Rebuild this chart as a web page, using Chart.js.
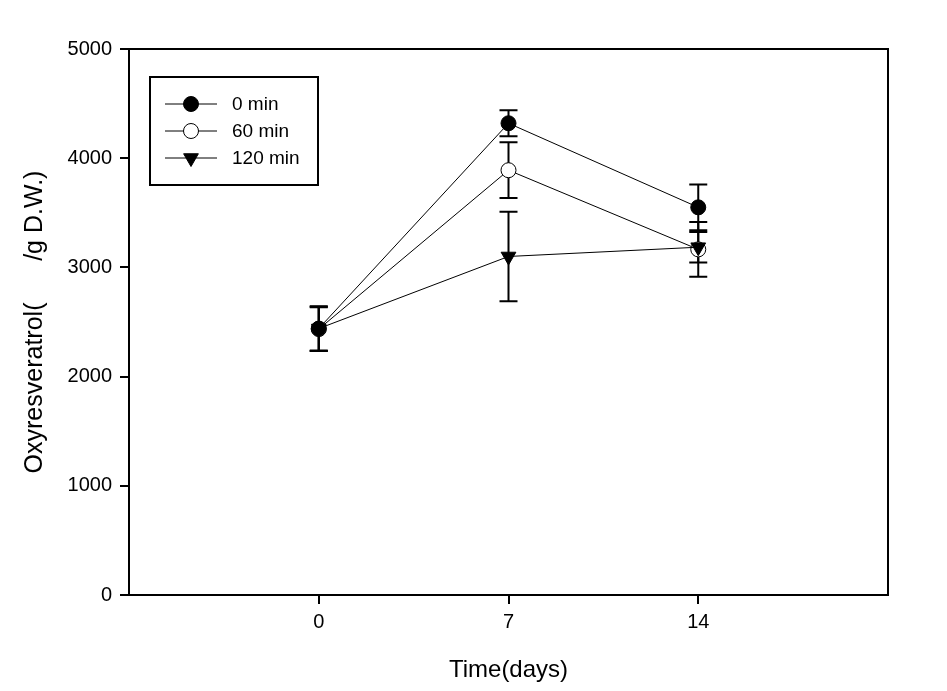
<!DOCTYPE html>
<html>
<head>
    <title>Oxyresveratrol</title>
    <script src="https://cdnjs.cloudflare.com/ajax/libs/Chart.js/4.4.1/chart.umd.min.js"></script>
    <style>
        body {
            margin: 0;
            padding: 0;
            background: #ffffff;
        }
        #wrap {
            width: 947px;
            height: 691px;
        }
    </style>
</head>
<body>
    <div id="wrap">
        <canvas id="lineChart" width="947" height="691"></canvas>
    </div>

    <script>
        // values
        const days = [0, 7, 14];
        const xTicks = [0, 7, 14];
        const yTicks = [0, 1000, 2000, 3000, 4000, 5000];
        const seriesNames = ['0 min', '60 min', '120 min'];

        const min0 = [2440, 4320, 3550];
        const min0Err = [205, 120, 210];
        const min60 = [2435, 3890, 3165];
        const min60Err = [200, 255, 250];
        const min120 = [2440, 3100, 3185];
        const min120Err = [200, 410, 140];

        const FONT = 'Liberation Sans, Arial, sans-serif';

        function toPoints(vals, errs) {
            return days.map(function (d, i) {
                return { x: d, y: vals[i], err: errs[i] };
            });
        }

        // error bars, drawn under the markers
        const errorBars = {
            id: 'errorBars',
            beforeDatasetsDraw(chart) {
                const ctx = chart.ctx;
                const xs = chart.scales.x;
                const ys = chart.scales.y;
                ctx.save();
                ctx.strokeStyle = '#000';
                ctx.lineWidth = 2;
                chart.data.datasets.forEach(function (ds) {
                    ds.data.forEach(function (p) {
                        const px = xs.getPixelForValue(p.x);
                        const top = ys.getPixelForValue(p.y + p.err);
                        const bot = ys.getPixelForValue(p.y - p.err);
                        ctx.beginPath();
                        ctx.moveTo(px, top);
                        ctx.lineTo(px, bot);
                        ctx.moveTo(px - 9, top);
                        ctx.lineTo(px + 9, top);
                        ctx.moveTo(px - 9, bot);
                        ctx.lineTo(px + 9, bot);
                        ctx.stroke();
                    });
                });
                ctx.restore();
            }
        };

        // box round the plot + legend box in the top left
        const frameAndLegend = {
            id: 'frameAndLegend',
            afterDraw(chart) {
                const ctx = chart.ctx;
                const a = chart.chartArea;
                ctx.save();
                ctx.strokeStyle = '#000';
                ctx.lineWidth = 2;
                ctx.strokeRect(a.left, a.top, a.right - a.left, a.bottom - a.top);

                // legend
                const lx = a.left + 21, ly = a.top + 28;
                ctx.strokeRect(lx, ly, 168, 108);
                ctx.font = '19px ' + FONT;
                ctx.textBaseline = 'middle';
                chart.data.datasets.forEach(function (ds, i) {
                    const yy = ly + 27 + i * 27;
                    ctx.lineWidth = 1;
                    ctx.strokeStyle = '#000';
                    ctx.beginPath();
                    ctx.moveTo(lx + 15, yy);
                    ctx.lineTo(lx + 67, yy);
                    ctx.stroke();
                    ctx.fillStyle = ds.pointBackgroundColor;
                    ctx.strokeStyle = ds.pointBorderColor;
                    ctx.lineWidth = 1;
                    Chart.helpers.drawPoint(ctx, {
                        pointStyle: ds.pointStyle,
                        radius: ds.pointRadius,
                        rotation: ds.pointRotation || 0,
                        borderWidth: 1
                    }, lx + 41, yy);
                    ctx.fillStyle = '#000';
                    ctx.fillText(seriesNames[i], lx + 82, yy + 1);
                });
                ctx.restore();
            }
        };

        document.addEventListener('DOMContentLoaded', function () {
            const ctx = document.getElementById('lineChart').getContext('2d');

            const chart = new Chart(ctx, {
                type: 'line',
                data: {
                    datasets: [
                        {
                            label: seriesNames[0],
                            data: toPoints(min0, min0Err),
                            order: 1,
                            borderColor: '#000',
                            borderWidth: 1,
                            backgroundColor: '#000',
                            pointBackgroundColor: '#000',
                            pointBorderColor: '#000',
                            pointStyle: 'circle',
                            pointRadius: 7.5,
                            pointBorderWidth: 1
                        },
                        {
                            label: seriesNames[1],
                            data: toPoints(min60, min60Err),
                            order: 2,
                            borderColor: '#000',
                            borderWidth: 1,
                            backgroundColor: '#fff',
                            pointBackgroundColor: '#fff',
                            pointBorderColor: '#000',
                            pointStyle: 'circle',
                            pointRadius: 7.5,
                            pointBorderWidth: 1
                        },
                        {
                            label: seriesNames[2],
                            data: toPoints(min120, min120Err),
                            order: 0,
                            borderColor: '#000',
                            borderWidth: 1,
                            backgroundColor: '#000',
                            pointBackgroundColor: '#000',
                            pointBorderColor: '#000',
                            pointStyle: 'triangle',
                            pointRotation: 180,
                            pointRadius: 8.5,
                            pointBorderWidth: 1
                        }
                    ]
                },
                options: {
                    responsive: false,
                    animation: false,
                    layout: {
                        padding: { top: 49, right: 59, left: 0, bottom: 0 }
                    },
                    plugins: {
                        legend: { display: false },
                        tooltip: { enabled: false }
                    },
                    scales: {
                        x: {
                            type: 'linear',
                            min: -7,
                            max: 21,
                            afterBuildTicks(scale) {
                                scale.ticks = xTicks.map(function (v) { return { value: v }; });
                            },
                            afterFit(scale) { scale.height = 96; },
                            grid: {
                                drawOnChartArea: false,
                                drawTicks: true,
                                tickLength: 9,
                                color: '#000',
                                lineWidth: 2
                            },
                            border: { display: false },
                            ticks: {
                                color: '#000',
                                font: { family: FONT, size: 20 },
                                padding: 6,
                                maxRotation: 0,
                                callback: function (v) { return String(v); }
                            },
                            title: {
                                display: true,
                                text: 'Time(days)',
                                color: '#000',
                                font: { family: FONT, size: 24 },
                                padding: { top: 0, bottom: 6 }
                            }
                        },
                        y: {
                            min: 0,
                            max: 5000,
                            afterBuildTicks(scale) {
                                scale.ticks = yTicks.map(function (v) { return { value: v }; });
                            },
                            afterFit(scale) { scale.width = 129; },
                            grid: {
                                drawOnChartArea: false,
                                drawTicks: true,
                                tickLength: 9,
                                color: '#000',
                                lineWidth: 2
                            },
                            border: { display: false },
                            ticks: {
                                color: '#000',
                                font: { family: FONT, size: 20 },
                                padding: 8,
                                callback: function (v) { return String(v); }
                            },
                            title: {
                                display: true,
                                text: 'Oxyresveratrol(      /g D.W.)',
                                color: '#000',
                                font: { family: FONT, size: 25 },
                                padding: { top: 20, bottom: 0 }
                            }
                        }
                    }
                },
                plugins: [errorBars, frameAndLegend]
            });
        });
    </script>
</body>
</html>
